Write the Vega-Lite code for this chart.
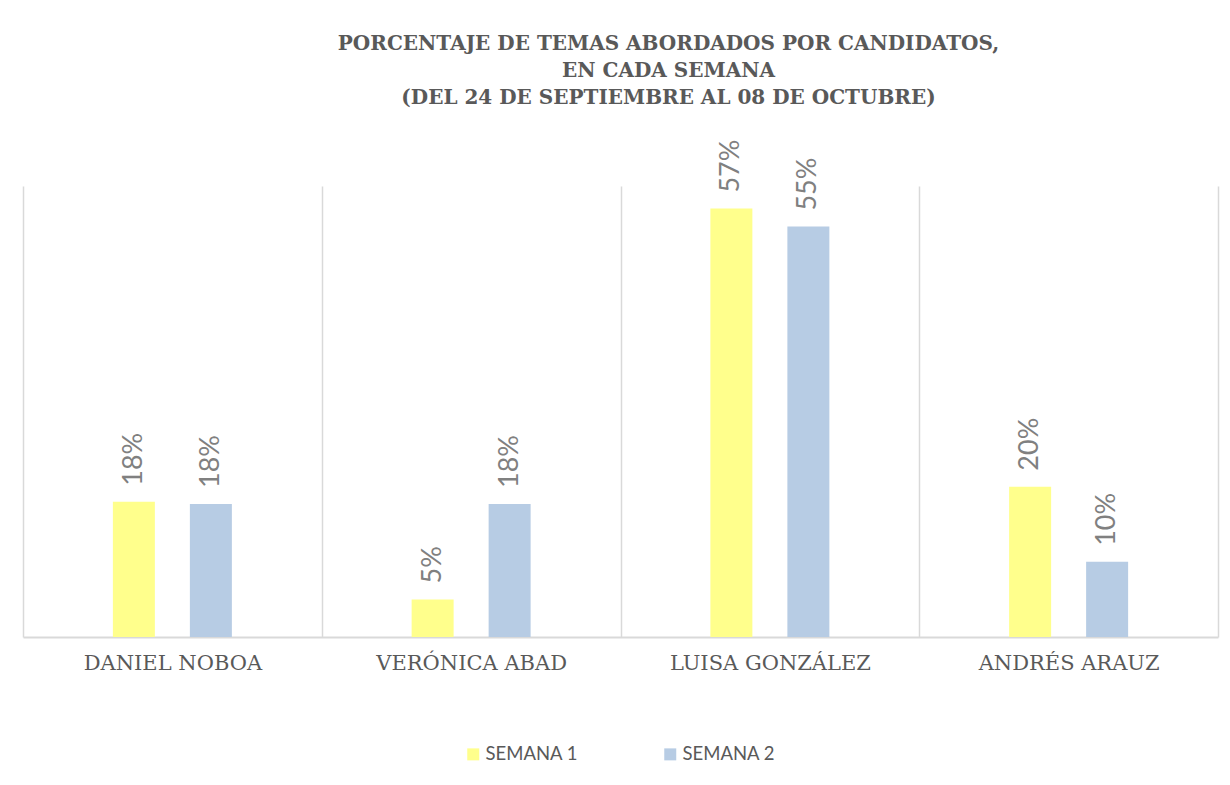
{
  "$schema": "https://vega.github.io/schema/vega-lite/v6.json",
  "width": 1195,
  "height": 451,
  "autosize": {"type": "none"},
  "padding": {"left": 23, "top": 186, "right": 12, "bottom": 148},
  "background": "white",
  "title": {
    "text": ["PORCENTAJE DE TEMAS ABORDADOS POR CANDIDATOS,", "EN CADA SEMANA", "(DEL 24 DE SEPTIEMBRE AL 08 DE OCTUBRE)"],
    "font": "DejaVu Serif",
    "fontSize": 20,
    "fontWeight": "bold",
    "color": "#595959",
    "anchor": "middle",
    "lineHeight": 27,
    "offset": 32,
    "dx": 48
  },
  "data": {
    "values": [
      {"candidato": "DANIEL NOBOA", "semana": "SEMANA 1", "valor": 0.18},
      {"candidato": "DANIEL NOBOA", "semana": "SEMANA 2", "valor": 0.177},
      {"candidato": "VERÓNICA ABAD", "semana": "SEMANA 1", "valor": 0.05},
      {"candidato": "VERÓNICA ABAD", "semana": "SEMANA 2", "valor": 0.177},
      {"candidato": "LUISA GONZÁLEZ", "semana": "SEMANA 1", "valor": 0.57},
      {"candidato": "LUISA GONZÁLEZ", "semana": "SEMANA 2", "valor": 0.546},
      {"candidato": "ANDRÉS ARAUZ", "semana": "SEMANA 1", "valor": 0.2},
      {"candidato": "ANDRÉS ARAUZ", "semana": "SEMANA 2", "valor": 0.1}
    ]
  },
  "encoding": {
    "x": {
      "field": "candidato",
      "type": "nominal",
      "sort": null,
      "scale": {"paddingInner": 0, "paddingOuter": 0},
      "axis": {
        "title": null,
        "labelAngle": 0,
        "labelFont": "DejaVu Serif",
        "labelFontSize": 21,
        "labelColor": "#595959",
        "labelPadding": 15,
        "labelLimit": 300,
        "ticks": false,
        "grid": true,
        "gridColor": "#d9d9d9",
        "gridWidth": 1.5,
        "tickBand": "extent",
        "domainColor": "#d9d9d9",
        "domainWidth": 2
      }
    },
    "xOffset": {
      "field": "semana",
      "type": "nominal",
      "scale": {"paddingInner": 0, "paddingOuter": 0.94}
    },
    "y": {
      "field": "valor",
      "type": "quantitative",
      "scale": {"domain": [0, 0.6], "nice": false},
      "axis": null
    }
  },
  "layer": [
    {
      "mark": {"type": "bar", "width": 42},
      "encoding": {
        "color": {
          "field": "semana",
          "type": "nominal",
          "scale": {"domain": ["SEMANA 1", "SEMANA 2"], "range": ["#FFFF8C", "#B7CCE4"]},
          "legend": {
            "title": null,
            "orient": "none",
            "direction": "horizontal",
            "legendX": 441,
            "legendY": 559,
            "symbolType": "square",
            "symbolSize": 144,
            "symbolStrokeWidth": 0,
            "labelFont": "Lato",
            "labelFontSize": 18.5,
            "labelColor": "#595959",
            "labelOffset": 3,
            "columnPadding": 82
          }
        }
      }
    },
    {
      "mark": {
        "type": "text",
        "angle": 270,
        "align": "left",
        "baseline": "middle",
        "dx": 16,
        "font": "Lato",
        "fontSize": 27,
        "color": "#808080"
      },
      "encoding": {
        "text": {"field": "valor", "type": "quantitative", "format": ".0%"}
      }
    }
  ],
  "config": {
    "view": {"stroke": null}
  }
}
